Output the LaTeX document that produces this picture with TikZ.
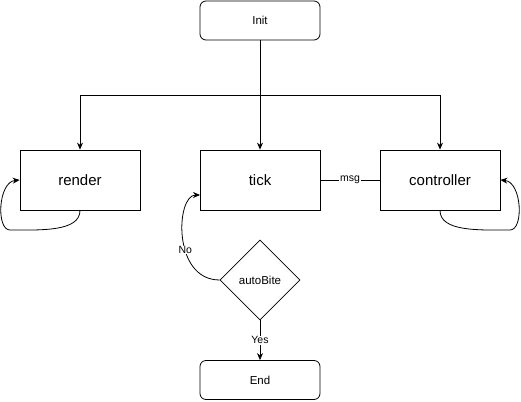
\documentclass[tikz,border=0pt]{standalone}
\usepackage{fontspec}
\setmainfont{Liberation Sans}
\usetikzlibrary{arrows.meta,shapes.geometric}
\begin{document}
\begin{tikzpicture}[x=1pt,y=-1pt,
  box/.style={draw,line width=0.8pt,minimum width=120pt,minimum height=60pt,font=\fontsize{15}{18}\selectfont,inner sep=0pt},
  term/.style={draw,line width=0.8pt,rounded corners=6pt,minimum width=120pt,minimum height=39pt,font=\fontsize{11.5}{13}\selectfont,inner sep=0pt},
  dec/.style={draw,line width=0.8pt,diamond,minimum width=80pt,minimum height=80pt,aspect=1,inner sep=0pt,font=\fontsize{11.5}{13}\selectfont},
  conn/.style={line width=0.8pt,-{Stealth[length=7pt,width=6pt]}},
  lbl/.style={fill=white,font=\fontsize{10.5}{12}\selectfont,inner sep=1pt}]
\useasboundingbox (0,0) rectangle (521,401);
\node[term] (init) at (260,20.5) {Init};
\node[box] (render) at (80,180) {render};
\node[box] (tick) at (260,180) {tick};
\node[box] (ctrl) at (440,180) {controller};
\node[dec] (auto) at (260,280) {autoBite};
\node[term] (end) at (260,380) {End};
\coordinate (split) at (260,95);
\draw[conn] (init.south) -- (tick.north);
\draw[conn] (split) -| (render.north);
\draw[conn] (split) -| (ctrl.north);
\draw[line width=0.8pt] (tick.east) -- node[lbl] {msg} (ctrl.west);
\draw[conn] (render.south) .. controls (80,232) and (40,230) .. (10,230)
  .. controls (-4,230) and (-2,182) .. (render.west);
\draw[conn] (ctrl.south) .. controls (440,232) and (480,230) .. (510,230)
  .. controls (524,230) and (522,182) .. (ctrl.east);
\draw[conn] (auto.west) .. controls (172,280) and (176,195) .. (200,195)
  node[pos=0.4,lbl,inner sep=0.5pt] {No};
\draw[conn] (auto.south) -- node[lbl] {Yes} (end.north);
\end{tikzpicture}
\end{document}
